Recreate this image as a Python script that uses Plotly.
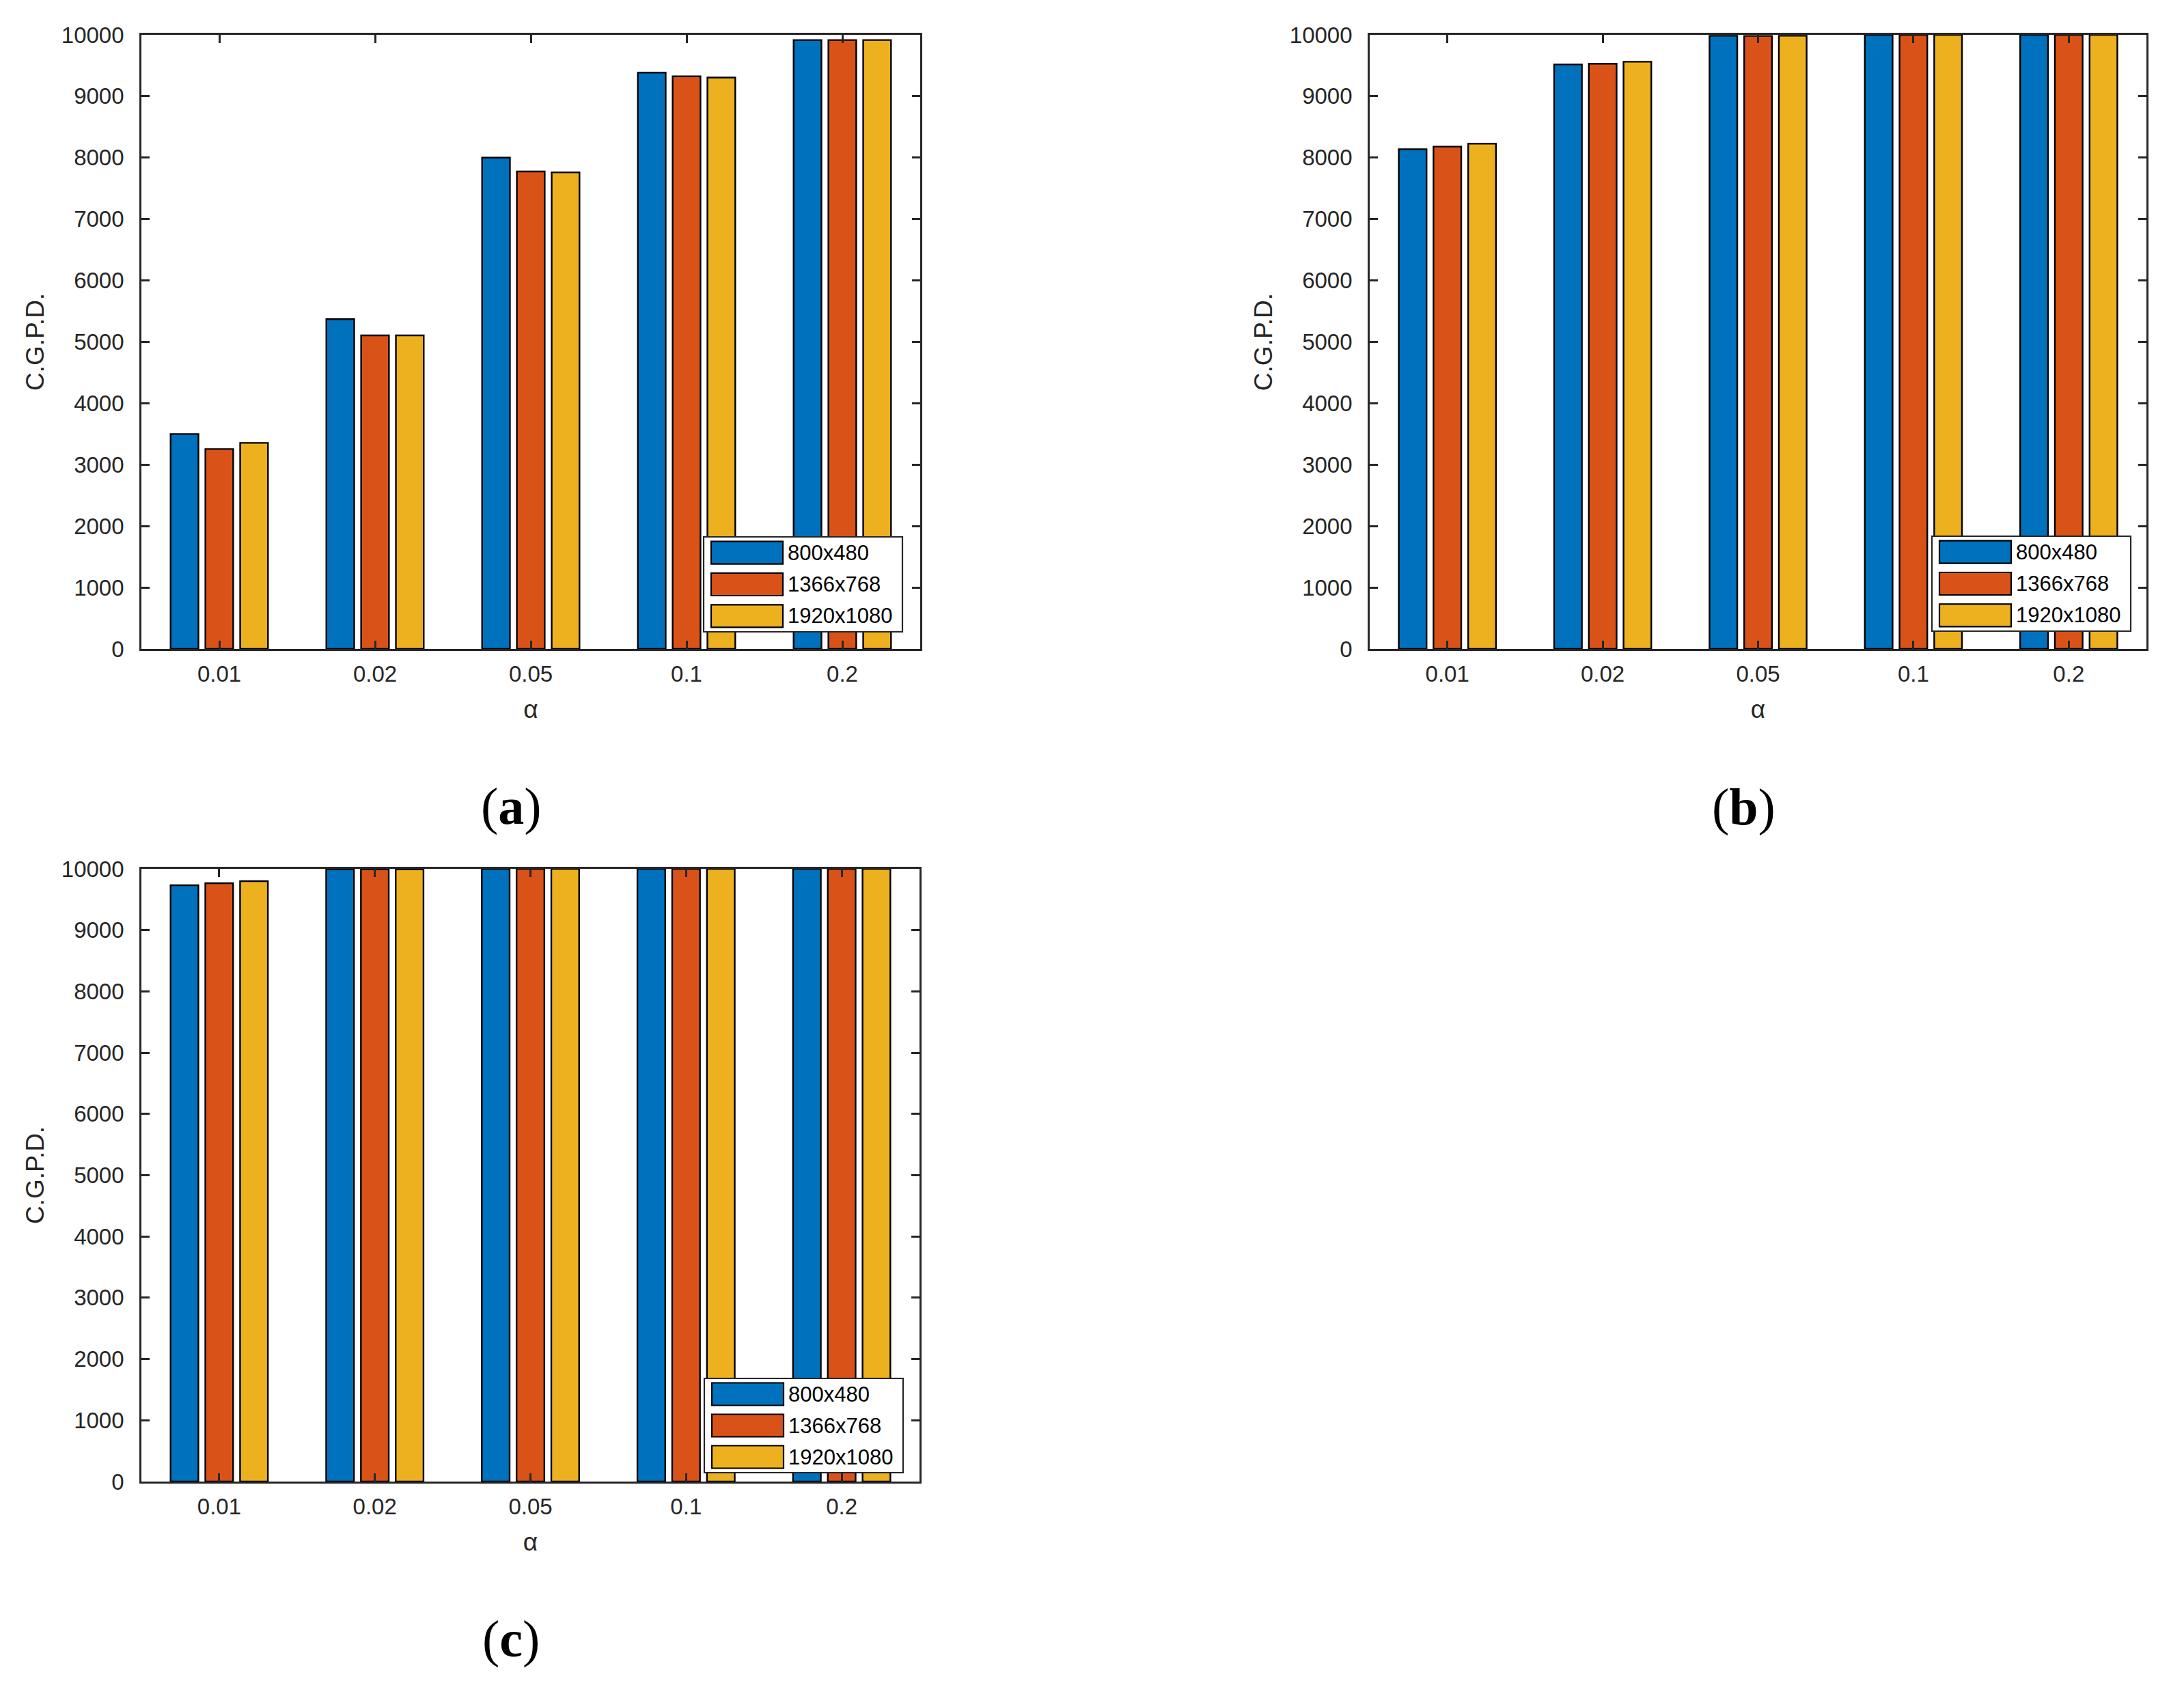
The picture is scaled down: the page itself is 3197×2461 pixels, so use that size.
import plotly.graph_objects as go

W, H = 3197, 2461

# ---------------- data ----------------
alpha_labels = ["0.01", "0.02", "0.05", "0.1", "0.2"]
series_names = ["800x480", "1366x768", "1920x1080"]
series_colors = ["#0072BD", "#D95319", "#EDB120"]

# panel (a)
a_800 = [3500, 5370, 8000, 9385, 9915]
a_1366 = [3255, 5105, 7775, 9325, 9915]
a_1920 = [3355, 5105, 7760, 9305, 9915]
# panel (b)
b_800 = [8137, 9518, 9985, 10000, 10000]
b_1366 = [8180, 9530, 9982, 10000, 10000]
b_1920 = [8227, 9562, 9985, 10000, 10000]
# panel (c)
c_800 = [9732, 9990, 10000, 10000, 10000]
c_1366 = [9766, 9990, 10000, 10000, 10000]
c_1920 = [9800, 9990, 10000, 10000, 10000]

y_ticks = list(range(0, 10001, 1000))
y_title = "C.G.P.D."
x_title = "α"
panel_tags = ["a", "b", "c"]

# ---------------- layout geometry (pixels) ----------------
# (left, right, top, bottom) of each plot area
boxes = [
    (207, 1347, 51, 950),
    (2005, 3142, 51, 950),
    (207, 1346, 1272, 2169),
]
# legend box (left, top, bottom) per panel and panel tag centre
legend_boxes = [
    (1030, 786, 925),
    (2828, 785, 924),
    (1031, 2018, 2156),
]
tag_pos = [(748, 1180), (2552, 1181), (748, 2399)]

AX = "#262626"
FONT = "Liberation Sans"

def px(x):
    return x / W

def py(y):
    return 1 - y / H

panels = [
    (a_800, a_1366, a_1920),
    (b_800, b_1366, b_1920),
    (c_800, c_1366, c_1920),
]

fig = go.Figure()
for i, vals in enumerate(panels):
    sfx = "" if i == 0 else str(i + 1)
    for name, col, v in zip(series_names, series_colors, vals):
        fig.add_trace(go.Bar(
            x=alpha_labels, y=v, name=name,
            marker=dict(color=col, line=dict(color="black", width=2.4)),
            xaxis="x" + sfx, yaxis="y" + sfx,
            showlegend=False, offsetgroup=name,
        ))

layout = dict(
    width=W, height=H, autosize=False,
    margin=dict(l=0, r=0, t=0, b=0, autoexpand=False),
    paper_bgcolor="white", plot_bgcolor="white",
    barmode="group", bargap=0.33, bargroupgap=0.2,
    font=dict(family=FONT, color=AX, size=33),
    showlegend=False,
)

shapes = []
annotations = []
for i, (l, r, t, b) in enumerate(boxes):
    sfx = "" if i == 0 else str(i + 1)
    layout["xaxis" + sfx] = dict(
        domain=[px(l), px(r)], anchor="y" + sfx, automargin=False,
        type="category", categoryorder="array", categoryarray=alpha_labels,
        showline=True, linecolor=AX, linewidth=2.7, mirror="ticks",
        ticks="inside", ticklen=12, tickwidth=2.7, tickcolor=AX,
        showgrid=False, zeroline=False,
        tickfont=dict(family=FONT, size=33, color=AX),
        ticklabelstandoff=6,
        title=dict(text=x_title, font=dict(family=FONT, size=37, color=AX), standoff=21),
        fixedrange=True,
    )
    layout["yaxis" + sfx] = dict(
        domain=[py(b), py(t)], anchor="x" + sfx, automargin=False,
        range=[0, 10000], tickvals=y_ticks, ticktext=[str(v) for v in y_ticks],
        showline=True, linecolor=AX, linewidth=2.7, mirror="ticks",
        ticks="inside", ticklen=12, tickwidth=2.7, tickcolor=AX,
        showgrid=False, zeroline=False,
        tickfont=dict(family=FONT, size=33, color=AX),
        ticklabelstandoff=16,
        title=dict(text=y_title, font=dict(family=FONT, size=37, color=AX), standoff=14),
        fixedrange=True,
    )

    # legend drawn as a MATLAB-style box
    lx, lt, lb = legend_boxes[i]
    lr = lx + 291
    shapes.append(dict(type="rect", xref="paper", yref="paper",
                       x0=px(lx), x1=px(lr), y0=py(lb), y1=py(lt),
                       fillcolor="white", line=dict(color=AX, width=2.2), layer="above"))
    row_h = (lb - lt) / 3.0
    for k, (name, col) in enumerate(zip(series_names, series_colors)):
        cy = lt + row_h * (k + 0.5)
        shapes.append(dict(type="rect", xref="paper", yref="paper",
                           x0=px(lx + 11), x1=px(lx + 116),
                           y0=py(cy + 16.5), y1=py(cy - 16.5),
                           fillcolor=col, line=dict(color="black", width=2.2), layer="above"))
        annotations.append(dict(xref="paper", yref="paper", x=px(lx + 121), y=py(cy),
                                xanchor="left", yanchor="middle", showarrow=False,
                                text=name, font=dict(family=FONT, size=31, color="black")))

    tx, ty = tag_pos[i]
    annotations.append(dict(xref="paper", yref="paper", x=px(tx), y=py(ty),
                            xanchor="center", yanchor="middle", showarrow=False,
                            text="(<b>%s</b>)" % panel_tags[i],
                            font=dict(family="Liberation Serif", size=76, color="black")))

layout["shapes"] = shapes
layout["annotations"] = annotations
fig.update_layout(**layout)

fig.write_html("out.html", config={"displayModeBar": False},
               post_script="document.body.style.margin='0';document.body.style.overflow='hidden';")
